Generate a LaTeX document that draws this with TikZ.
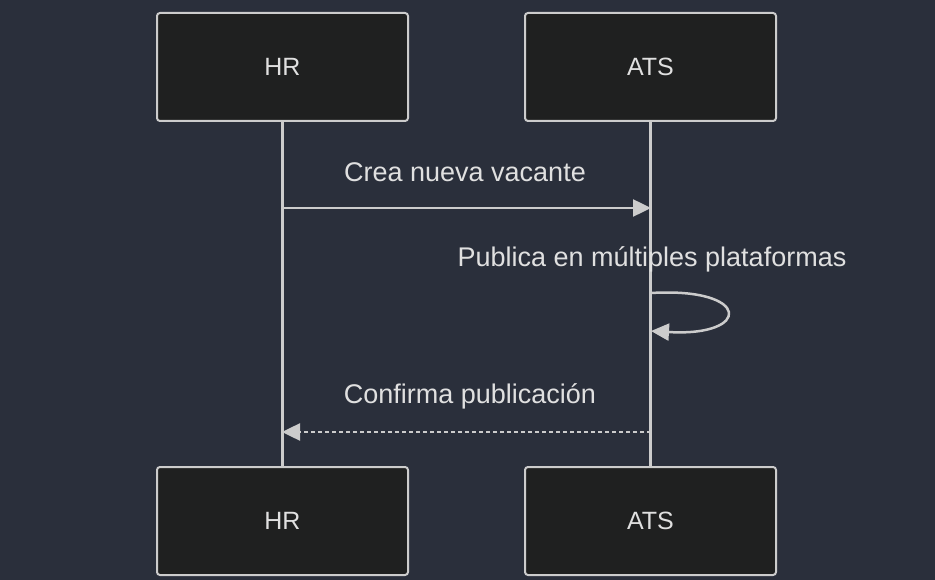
\documentclass[tikz,border=0pt]{standalone}
\usepackage{fontspec}
\setmainfont{Liberation Sans}
\usetikzlibrary{arrows.meta}

\definecolor{bgcol}{RGB}{42,47,59}
\definecolor{boxfill}{RGB}{31,32,32}
\definecolor{linecol}{RGB}{204,204,204}
\definecolor{textcol}{RGB}{224,224,224}

\begin{document}
\begin{tikzpicture}[x=1pt,y=-1pt]
		\tikzstyle {actor} = [draw=linecol, fill=boxfill, line width=2pt, rounded corners=3pt,
			minimum width=251pt, minimum height=108pt, text=textcol, font=\fontsize{25}{30}\selectfont]
		\tikzstyle {life line} = [draw=linecol, line width=3pt]
		\tikzstyle {message} = [draw=linecol, line width=2.5pt, -{Triangle[length=18pt,width=17pt]}]
		\tikzstyle {label} = [text=textcol, font=\fontsize{27}{32}\selectfont]

		\fill[bgcol] (0,0) rectangle (935,580);
		\useasboundingbox (0,0) rectangle (935,580);

		\node[actor] (hrTop) at (282.5, 67) {HR};
		\node[actor] (atsTop) at (650.5, 67) {ATS};
		\node[actor] (hrBot) at (282.5, 521) {HR};
		\node[actor] (atsBot) at (650.5, 521) {ATS};

		\draw[life line] (hrTop.south) -- (hrBot.north);
		\draw[life line] (atsTop.south) -- (atsBot.north);

		\coordinate (hrA) at (282, 208);
		\coordinate (atsA) at (651, 208);
		\coordinate (atsB) at (651, 293);
		\coordinate (atsC) at (651, 331);
		\coordinate (atsD) at (651, 432);
		\coordinate (hrD) at (282, 432);

		\draw[message] (hrA) -- (atsA);
		\node[label] (msgA) at (465, 172) {Crea nueva vacante};

		\draw[message] (atsB) .. controls (752, 287) and (752, 337) .. (atsC);
		\node[label] (msgB) at (652, 259) {Publica en múltiples plataformas};

		\draw[message, dash pattern=on 4pt off 3pt] (atsD) -- (hrD);
		\node[label] (msgC) at (470, 396) {Confirma publicación};
	\end{tikzpicture}
\end{document}
